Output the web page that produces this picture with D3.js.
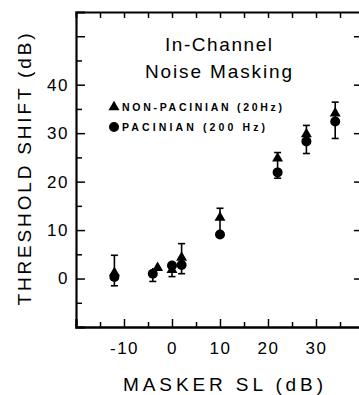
<!DOCTYPE html>
<html>
<head>
<meta charset="utf-8">
<script src="https://cdn.jsdelivr.net/npm/d3@7"></script>
<style>
    body { margin: 0; background: white; }
    svg { display: block; }
    text { font-family: "Liberation Sans", Arial, sans-serif; fill: black; }
</style>
</head>
<body>
<div id="chart"></div>
<script>
// Masker sensation level (dB) for each tested condition
const triX = [-12, -3, 0, 2, 10, 22, 28, 34];
const circX = [-12, -4, 0, 2, 10, 22, 28, 34];
// Threshold shift (dB), non-Pacinian (20 Hz) triangles
const triShift = [1.2, 2.2, 1.8, 4.3, 12.6, 24.8, 29.8, 34.1];
// Threshold shift (dB), Pacinian (200 Hz) circles
const circShift = [0.3, 1.0, 2.7, 2.8, 9.1, 21.9, 28.3, 32.4];
// Error bar ends (null = none drawn on that side)
const errHigh = [4.8, null, null, 7.2, 14.5, 26, 31.6, 36.4];
const errLow = [-1.5, -0.6, 0.4, 1.0, null, 20.7, 25.8, 28.9];

// Tick labels
const xTickLabels = [-10, 0, 10, 20, 30];
const yTickLabels = [0, 10, 20, 30, 40];

const width = 359;
const height = 395;

const svg = d3.select('#chart')
    .append('svg')
    .attr('width', width)
    .attr('height', height);

// Scales
const x = d3.scaleLinear().domain([-20, 40]).range([76, 364]);
const y = d3.scaleLinear().domain([-10, 55]).range([327, 12]);

// plain hyphen for negatives, like the original figure
const fmt = d => String(d);

// Left axis: labelled majors + short minors, ticks pointing inward
svg.append('g')
    .attr('transform', `translate(${x(-20)},0)`)
    .call(d3.axisLeft(y).tickValues(yTickLabels.concat([50])).tickSize(-9).tickPadding(7)
        .tickFormat(d => d === 50 ? '' : fmt(d)))
    .call(g => g.select('.domain').attr('stroke-width', 2.2))
    .call(g => g.selectAll('.tick line').attr('stroke-width', 1.5))
    .call(g => g.selectAll('.tick text').style('font-size', '17px').style('letter-spacing', '1.5px'));

svg.append('g')
    .attr('transform', `translate(${x(-20)},0)`)
    .call(d3.axisLeft(y).tickValues([-5, 5, 15, 25, 35, 45]).tickSize(-6).tickFormat(''))
    .call(g => g.select('.domain').remove())
    .call(g => g.selectAll('.tick line').attr('stroke-width', 1.5));

// Bottom axis
svg.append('g')
    .attr('transform', `translate(0,${y(-10)})`)
    .call(d3.axisBottom(x).tickValues(xTickLabels).tickSize(-8).tickPadding(15).tickFormat(fmt))
    .call(g => g.select('.domain').attr('stroke-width', 2.4))
    .call(g => g.selectAll('.tick line').attr('stroke-width', 1.5))
    .call(g => g.selectAll('.tick text').style('font-size', '17px').style('letter-spacing', '1.5px'));

svg.append('g')
    .attr('transform', `translate(0,${y(-10)})`)
    .call(d3.axisBottom(x).tickValues([-15, -5, 5, 15, 25, 35]).tickSize(-5).tickFormat(''))
    .call(g => g.select('.domain').remove())
    .call(g => g.selectAll('.tick line').attr('stroke-width', 1.5));

// Top axis (no labels)
svg.append('g')
    .attr('transform', `translate(0,${y(55)})`)
    .call(d3.axisTop(x).tickValues(d3.range(-15, 40, 5)).tickSize(-6).tickFormat(''))
    .call(g => g.select('.domain').attr('stroke-width', 2))
    .call(g => g.selectAll('.tick line').attr('stroke-width', 1.5));

// Right axis (sits just past the edge, only tick stubs show)
svg.append('g')
    .attr('transform', `translate(${x(40)},0)`)
    .call(d3.axisRight(y).tickValues([0, 10, 20, 30, 40, 50]).tickSize(-10).tickFormat(''))
    .call(g => g.selectAll('.tick line').attr('stroke-width', 1.5));

// Axis titles
svg.append('text')
    .attr('transform', `translate(31,${(32 + 307) / 2}) rotate(-90)`)
    .attr('text-anchor', 'middle')
    .attr('textLength', 272)
    .attr('lengthAdjust', 'spacing')
    .style('font-size', '19px')
    .text('THRESHOLD SHIFT (dB)');

svg.append('text')
    .attr('x', 123)
    .attr('y', 391)
    .attr('textLength', 200)
    .attr('lengthAdjust', 'spacing')
    .style('font-size', '19px')
    .text('MASKER SL (dB)');

// Title inside the plot
svg.append('text')
    .attr('x', 165).attr('y', 51)
    .attr('textLength', 107)
    .attr('lengthAdjust', 'spacing')
    .style('font-size', '19px')
    .text('In-Channel');

svg.append('text')
    .attr('x', 145).attr('y', 78)
    .attr('textLength', 147)
    .attr('lengthAdjust', 'spacing')
    .style('font-size', '19px')
    .text('Noise Masking');

// Symbol generators
const triangle = d3.symbol().type(d3.symbolTriangle).size(52);
const circleR = 5;

// Legend
const legend = svg.append('g');
legend.append('path')
    .attr('d', triangle)
    .attr('transform', `translate(${114},${107})`);
legend.append('text')
    .attr('x', 122).attr('y', 111)
    .attr('textLength', 160)
    .attr('lengthAdjust', 'spacing')
    .style('font-size', '10.5px')
    .style('font-weight', 'bold')
    .text('NON-PACINIAN (20Hz)');
legend.append('circle')
    .attr('cx', 114).attr('cy', 127)
    .attr('r', circleR);
legend.append('text')
    .attr('x', 122).attr('y', 131)
    .attr('textLength', 143)
    .attr('lengthAdjust', 'spacing')
    .style('font-size', '10.5px')
    .style('font-weight', 'bold')
    .text('PACINIAN  (200 Hz)');

// Error bars (stem through both symbols, caps at the ends shown)
const points = circX.map((cx, i) => ({
    i, cx, tx: triX[i], tri: triShift[i], circ: circShift[i], hi: errHigh[i], lo: errLow[i]
}));

const capW = 3.5;
const bars = svg.append('g').attr('stroke', 'black').attr('stroke-width', 1.6);
points.forEach(p => {
    const top = p.hi !== null ? p.hi : Math.max(p.tri, p.circ);
    const bottom = p.lo !== null ? p.lo : Math.min(p.tri, p.circ);
    const bx = p.hi !== null ? (p.tx + p.cx) / 2 : p.cx;
    bars.append('line')
        .attr('x1', x(bx)).attr('x2', x(bx))
        .attr('y1', y(top)).attr('y2', y(bottom));
    if (p.hi !== null) {
        bars.append('line')
            .attr('x1', x(bx) - capW).attr('x2', x(bx) + capW)
            .attr('y1', y(p.hi)).attr('y2', y(p.hi));
    }
    if (p.lo !== null) {
        bars.append('line')
            .attr('x1', x(bx) - capW).attr('x2', x(bx) + capW)
            .attr('y1', y(p.lo)).attr('y2', y(p.lo));
    }
});

// Data symbols
svg.append('g').selectAll('circle')
    .data(points)
    .enter()
    .append('circle')
    .attr('cx', d => x(d.cx))
    .attr('cy', d => y(d.circ))
    .attr('r', circleR);

svg.append('g').selectAll('path')
    .data(points)
    .enter()
    .append('path')
    .attr('d', triangle)
    .attr('transform', d => `translate(${x(d.tx)},${y(d.tri)})`);
</script>
</body>
</html>
